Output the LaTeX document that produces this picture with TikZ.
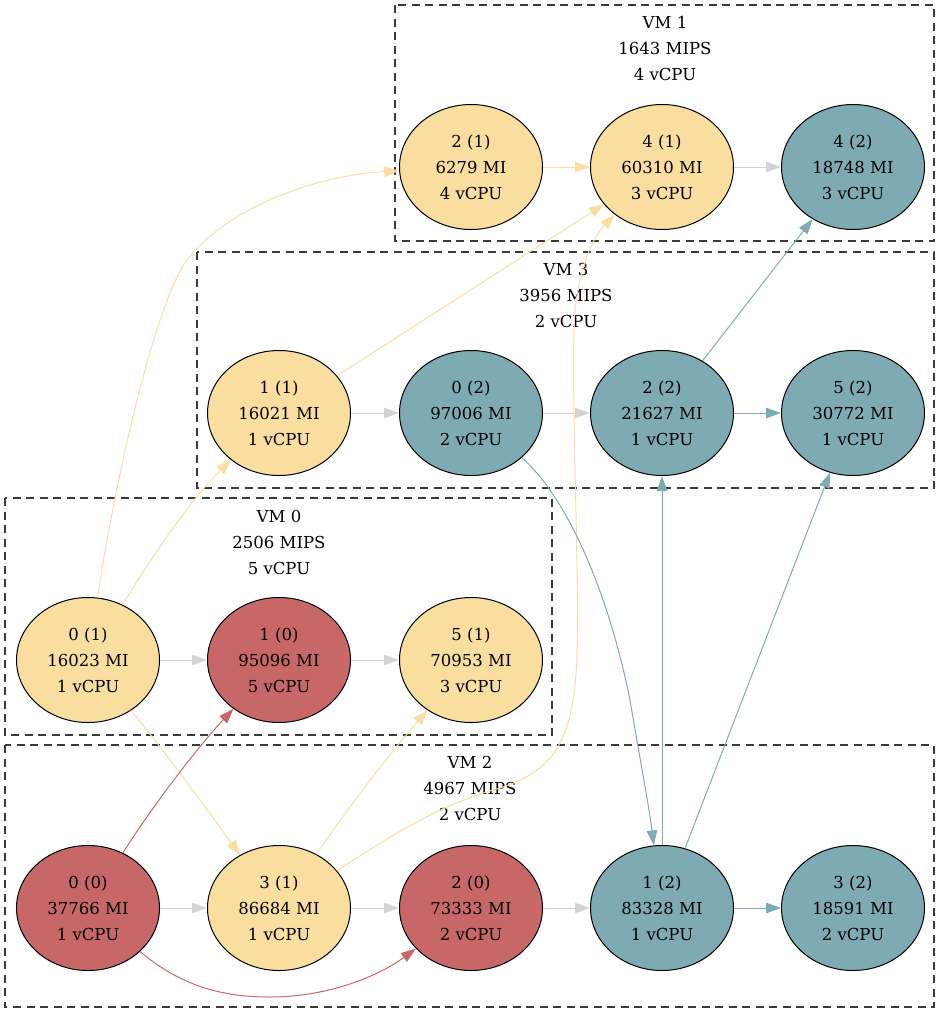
\documentclass[tikz,border=0pt]{standalone}
\usepackage{fontspec}
\setmainfont{DejaVu Serif}
\usetikzlibrary{shapes.geometric,arrows.meta}
\definecolor{cpured}{HTML}{C76767}
\definecolor{cpuyellow}{HTML}{FADE9F}
\definecolor{cputeal}{HTML}{7EABB3}
\definecolor{seqgray}{HTML}{D3D3D3}
\definecolor{boxline}{HTML}{3A3A3A}
\begin{document}
\begin{tikzpicture}[x=1pt,y=-1pt,
  task/.style={ellipse, draw=black, line width=1pt, minimum width=143pt,
    minimum height=125pt, inner sep=0pt, align=center,
    font=\fontsize{16.5}{26}\selectfont},
  onred/.style={task, fill=cpured},
  onyellow/.style={task, fill=cpuyellow},
  onteal/.style={task, fill=cputeal},
  vmbox/.style={draw=boxline, line width=1.3pt, dash pattern=on 8pt off 5.5pt},
  vmlabel/.style={align=center, inner sep=0pt, font=\fontsize{16.5}{26}\selectfont},
  link/.style={line width=1pt, -{Triangle[length=15pt,width=10.5pt]}},
]
\useasboundingbox (0,0) rectangle (941,1013);

% virtual machine clusters
\draw[vmbox] (395,5) rectangle (934,241);
\draw[vmbox] (197,252) rectangle (934,488);
\draw[vmbox] (5,498) rectangle (552,735);
\draw[vmbox] (5,745) rectangle (934,1007);

\node[vmlabel] (lab1) at (665,48) {VM 1\\1643 MIPS\\4 vCPU};
\node[vmlabel] (lab3) at (566,295) {VM 3\\3956 MIPS\\2 vCPU};
\node[vmlabel] (lab0) at (279,542) {VM 0\\2506 MIPS\\5 vCPU};
\node[vmlabel] (lab2) at (470,788) {VM 2\\4967 MIPS\\2 vCPU};

% tasks: id (cpu), length, cores
\node[onyellow] (n21) at (471,167) {2 (1)\\6279 MI\\4 vCPU};
\node[onyellow] (n41) at (662,167) {4 (1)\\60310 MI\\3 vCPU};
\node[onteal]   (n42) at (853,167) {4 (2)\\18748 MI\\3 vCPU};

\node[onyellow] (n11) at (279,413) {1 (1)\\16021 MI\\1 vCPU};
\node[onteal]   (n02) at (471,413) {0 (2)\\97006 MI\\2 vCPU};
\node[onteal]   (n22) at (662,413) {2 (2)\\21627 MI\\1 vCPU};
\node[onteal]   (n52) at (853,413) {5 (2)\\30772 MI\\1 vCPU};

\node[onyellow] (n01) at (88,660) {0 (1)\\16023 MI\\1 vCPU};
\node[onred]    (n10) at (279,660) {1 (0)\\95096 MI\\5 vCPU};
\node[onyellow] (n51) at (471,660) {5 (1)\\70953 MI\\3 vCPU};

\node[onred]    (n00) at (88,908) {0 (0)\\37766 MI\\1 vCPU};
\node[onyellow] (n31) at (279,908) {3 (1)\\86684 MI\\1 vCPU};
\node[onred]    (n20) at (471,908) {2 (0)\\73333 MI\\2 vCPU};
\node[onteal]   (n12) at (662,908) {1 (2)\\83328 MI\\1 vCPU};
\node[onteal]   (n32) at (853,908) {3 (2)\\18591 MI\\2 vCPU};

% execution order on each virtual machine
\draw[link, cpuyellow] (n21) -- (n41);
\draw[link, seqgray] (n41) -- (n42);
\draw[link, seqgray] (n11) -- (n02);
\draw[link, seqgray] (n02) -- (n22);
\draw[link, cputeal] (n22) -- (n52);
\draw[link, seqgray] (n01) -- (n10);
\draw[link, seqgray] (n10) -- (n51);
\draw[link, seqgray] (n00) -- (n31);
\draw[link, seqgray] (n31) -- (n20);
\draw[link, seqgray] (n20) -- (n12);
\draw[link, cputeal] (n12) -- (n32);

% data dependencies
\draw[link, cpuyellow] (n01) .. controls (120,450) and (160,295) .. (187,260)
  .. controls (230,205) and (320,175) .. (n21);
\draw[link, cpuyellow] (n01) .. controls (150,560) and (190,500) .. (n11);
\draw[link, cpuyellow] (n01) .. controls (160,745) and (200,800) .. (n31);
\draw[link, cpuyellow] (n11) -- (n41);
\draw[link, cpuyellow] (n31) .. controls (340,820) and (380,765) .. (n51);
\draw[link, cpuyellow] (n31) .. controls (400,830) and (440,805) .. (500,788)
  .. controls (555,770) and (575,740) .. (577,650)
  .. controls (579,560) and (572,420) .. (574,330)
  .. controls (575,280) and (590,240) .. (n41);
\draw[link, cputeal] (n02) .. controls (570,500) and (610,600) .. (630,700)
  .. controls (640,760) and (648,800) .. (n12);
\draw[link, cputeal] (n12) -- (n22);
\draw[link, cputeal] (n12) -- (n52);
\draw[link, cputeal] (n22) -- (n42);
\draw[link, cpured] (n00) .. controls (150,810) and (195,750) .. (n10);
\draw[link, cpured] (n00) .. controls (180,985) and (220,997) .. (270,997)
  .. controls (330,997) and (380,975) .. (n20);
\end{tikzpicture}
\end{document}
